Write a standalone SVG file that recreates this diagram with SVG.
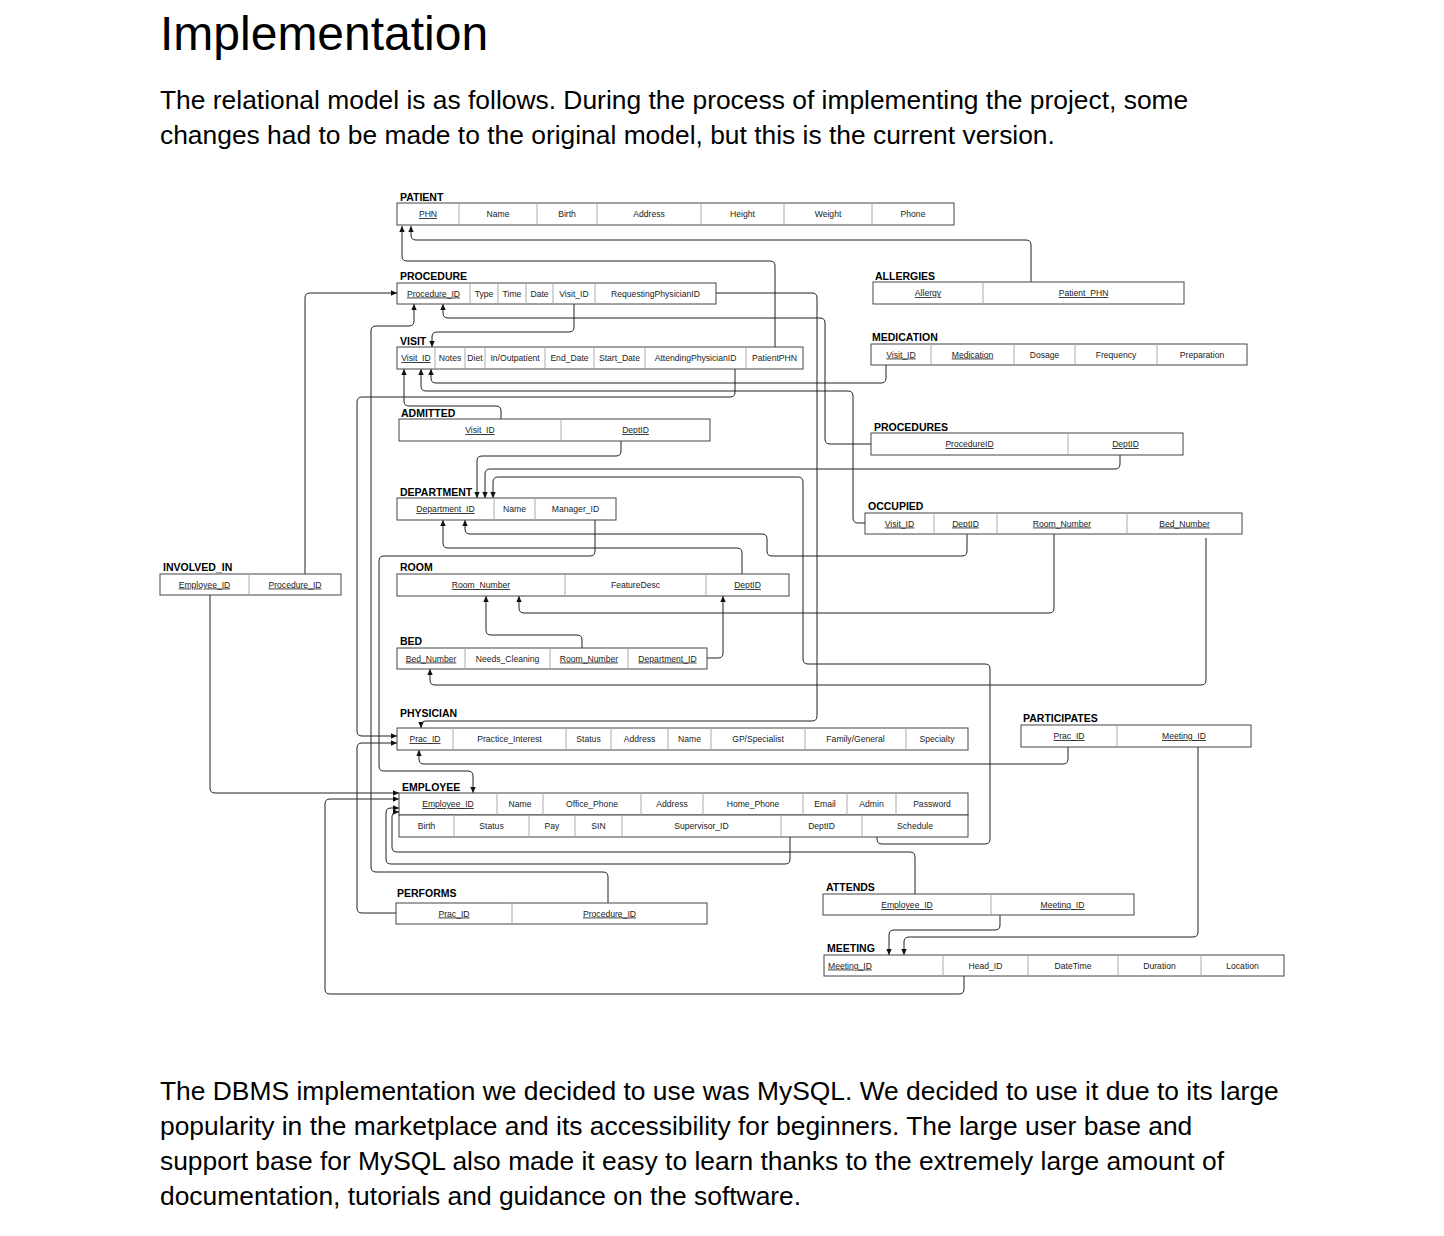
<svg xmlns="http://www.w3.org/2000/svg" width="1444" height="1236" viewBox="0 0 1444 1236">
<style>
.h1{font-family:"Liberation Sans",Arial,sans-serif;font-size:48px;fill:#000}
.p{font-family:"Liberation Sans",Arial,sans-serif;font-size:26.4px;fill:#000}
.t{font-family:"Liberation Sans",Arial,sans-serif;font-size:10.5px;font-weight:bold;fill:#000}
.c{font-family:"Liberation Sans",Arial,sans-serif;font-size:8.6px;fill:#222;text-anchor:middle}
.u{text-decoration:underline}
.box{fill:#fff;stroke:#444;stroke-width:1}
.dv{stroke:#aaa;stroke-width:1}
.conn path{fill:none;stroke:#222;stroke-width:1;marker-end:url(#arr)}
</style>
<defs>
<marker id="arr" viewBox="0 0 6 6" refX="6" refY="3" markerWidth="6" markerHeight="6" markerUnits="userSpaceOnUse" orient="auto">
<path d="M0,0.3 L6,3 L0,5.7 z" fill="#111"/>
</marker>
</defs>
<rect width="1444" height="1236" fill="#fff"/>
<text class="h1" x="160" y="50">Implementation</text>
<text class="p" x="160" y="109">The relational model is as follows. During the process of implementing the project, some</text>
<text class="p" x="160" y="144">changes had to be made to the original model, but this is the current version.</text>
<text class="p" x="160" y="1100">The DBMS implementation we decided to use was MySQL. We decided to use it due to its large</text>
<text class="p" x="160" y="1135">popularity in the marketplace and its accessibility for beginners. The large user base and</text>
<text class="p" x="160" y="1170">support base for MySQL also made it easy to learn thanks to the extremely large amount of</text>
<text class="p" x="160" y="1205">documentation, tutorials and guidance on the software.</text>

<g id="connectors" class="conn">
<path d="M775,347 V266 Q775,261 770,261 H407 Q402,261 402,256 V226"/>
<path d="M1031,282 V245 Q1031,240 1026,240 H416 Q411,240 411,235 V226"/>
<path d="M716,293 H812 Q817,293 817,298 V716 Q817,721 812,721 H426 Q421,721 421,726 V728"/>
<path d="M574,304 V327 Q574,332 569,332 H437 Q432,332 432,337 V347"/>
<path d="M501,419 V411 Q501,406 496,406 H409 Q404,406 404,401 V369"/>
<path d="M886,365 V378 Q886,383 881,383 H436 Q431,383 431,378 V369"/>
<path d="M865,523 H858 Q853,523 853,518 V396 Q853,391 848,391 H426 Q421,391 421,386 V369"/>
<path d="M735,369 V392 Q735,397 730,397 H362 Q357,397 357,402 V731 Q357,736 362,736 H397"/>
<path d="M396,913 H362 Q357,913 357,908 V748 Q357,743 362,743 H397"/>
<path d="M305,574 V298 Q305,293 310,293 H397"/>
<path d="M608,903 V877 Q608,872 603,872 H376 Q371,872 371,867 V331 Q371,326 376,326 H409 Q414,326 414,321 V304"/>
<path d="M871,444 H830 Q825,444 825,439 V323 Q825,318 820,318 H448 Q443,318 443,313 V304"/>
<path d="M621,441 V451 Q621,456 616,456 H482 Q477,456 477,461 V498"/>
<path d="M1120,455 V464 Q1120,469 1115,469 H490 Q485,469 485,474 V498"/>
<path d="M877,837 V839 Q877,844 882,844 H985 Q990,844 990,839 V669 Q990,664 985,664 H808 Q803,664 803,659 V482 Q803,477 798,477 H498 Q493,477 493,482 V498"/>
<path d="M742,574 V553 Q742,548 737,548 H448 Q443,548 443,543 V520"/>
<path d="M967,534 V551 Q967,556 962,556 H772 Q767,556 767,551 V539 Q767,534 762,534 H470 Q465,534 465,529 V520"/>
<path d="M595,520 V551 Q595,556 590,556 H384 Q379,556 379,561 V766 Q379,771 384,771 H468 Q473,771 473,776 V793"/>
<path d="M582,648 V640 Q582,635 577,635 H491 Q486,635 486,630 V596"/>
<path d="M1054,534 V608 Q1054,613 1049,613 H524 Q519,613 519,608 V596"/>
<path d="M707,658 H718 Q723,658 723,653 V596"/>
<path d="M1206,538 V680 Q1206,685 1201,685 H435 Q430,685 430,680 V669"/>
<path d="M1068,747 V759 Q1068,764 1063,764 H424 Q419,764 419,759 V750"/>
<path d="M1198,747 V932 Q1198,937 1193,937 H909 Q904,937 904,942 V955"/>
<path d="M1000,915 V925 Q1000,930 995,930 H894 Q889,930 889,935 V955"/>
<path d="M915,894 V857 Q915,852 910,852 H397 Q392,852 392,847 V817 Q392,812 397,812 H399"/>
<path d="M790,837 V859 Q790,864 785,864 H391 Q386,864 386,859 V813 Q386,808 391,808 H399"/>
<path d="M210,595 V788 Q210,793 215,793 H399"/>
<path d="M964,976 V989 Q964,994 959,994 H330 Q325,994 325,989 V804 Q325,799 330,799 H399"/>
</g>

<g id="patient">
<text class="t" x="400" y="201">PATIENT</text>
<rect class="box" x="397" y="203" width="557" height="22"/>
<path class="dv" d="M459,203V225M537,203V225M597,203V225M701,203V225M784,203V225M872,203V225"/>
<text class="c u" x="428" y="217">PHN</text>
<text class="c" x="498" y="217">Name</text>
<text class="c" x="567" y="217">Birth</text>
<text class="c" x="649" y="217">Address</text>
<text class="c" x="742.5" y="217">Height</text>
<text class="c" x="828" y="217">Weight</text>
<text class="c" x="913" y="217">Phone</text>
</g>

<g id="procedure">
<text class="t" x="400" y="280">PROCEDURE</text>
<rect class="box" x="397" y="283" width="319" height="21"/>
<path class="dv" d="M470,283V304M498,283V304M526,283V304M553,283V304M595,283V304"/>
<text class="c u" x="433.5" y="296.5">Procedure_ID</text>
<text class="c" x="484" y="296.5">Type</text>
<text class="c" x="512" y="296.5">Time</text>
<text class="c" x="539.5" y="296.5">Date</text>
<text class="c" x="574" y="296.5">Visit_ID</text>
<text class="c" x="655.5" y="296.5">RequestingPhysicianID</text>
</g>

<g id="visit">
<text class="t" x="400" y="345">VISIT</text>
<rect class="box" x="397" y="347" width="406" height="22"/>
<path class="dv" d="M435,347V369M465,347V369M485,347V369M545,347V369M594,347V369M645,347V369M746,347V369"/>
<text class="c u" x="416" y="361">Visit_ID</text>
<text class="c" x="450" y="361">Notes</text>
<text class="c" x="475" y="361">Diet</text>
<text class="c" x="515" y="361">In/Outpatient</text>
<text class="c" x="569.5" y="361">End_Date</text>
<text class="c" x="619.5" y="361">Start_Date</text>
<text class="c" x="695.5" y="361">AttendingPhysicianID</text>
<text class="c" x="774.5" y="361">PatientPHN</text>
</g>

<g id="admitted">
<text class="t" x="401" y="417">ADMITTED</text>
<rect class="box" x="399" y="419" width="311" height="22"/>
<path class="dv" d="M561,419V441"/>
<text class="c u" x="480" y="433">Visit_ID</text>
<text class="c u" x="635.5" y="433">DeptID</text>
</g>

<g id="allergies">
<text class="t" x="875" y="280">ALLERGIES</text>
<rect class="box" x="873" y="282" width="311" height="22"/>
<path class="dv" d="M983,282V304"/>
<text class="c u" x="928" y="296">Allergy</text>
<text class="c u" x="1083.5" y="296">Patient_PHN</text>
</g>

<g id="medication">
<text class="t" x="872" y="341">MEDICATION</text>
<rect class="box" x="871" y="344" width="376" height="21"/>
<path class="dv" d="M931,344V365M1014,344V365M1075,344V365M1157,344V365"/>
<text class="c u" x="901" y="357.5">Visit_ID</text>
<text class="c u" x="972.5" y="357.5">Medication</text>
<text class="c" x="1044.5" y="357.5">Dosage</text>
<text class="c" x="1116" y="357.5">Frequency</text>
<text class="c" x="1202" y="357.5">Preparation</text>
</g>

<g id="procedures">
<text class="t" x="874" y="431">PROCEDURES</text>
<rect class="box" x="871" y="433" width="312" height="22"/>
<path class="dv" d="M1068,433V455"/>
<text class="c u" x="969.5" y="447">ProcedureID</text>
<text class="c u" x="1125.5" y="447">DeptID</text>
</g>

<g id="occupied">
<text class="t" x="868" y="510">OCCUPIED</text>
<rect class="box" x="865" y="513" width="377" height="21"/>
<path class="dv" d="M934,513V534M997,513V534M1127,513V534"/>
<text class="c u" x="899.5" y="526.5">Visit_ID</text>
<text class="c u" x="965.5" y="526.5">DeptID</text>
<text class="c u" x="1062" y="526.5">Room_Number</text>
<text class="c u" x="1184.5" y="526.5">Bed_Number</text>
</g>

<g id="department">
<text class="t" x="400" y="496">DEPARTMENT</text>
<rect class="box" x="397" y="498" width="219" height="22"/>
<path class="dv" d="M494,498V520M535,498V520"/>
<text class="c u" x="445.5" y="512">Department_ID</text>
<text class="c" x="514.5" y="512">Name</text>
<text class="c" x="575.5" y="512">Manager_ID</text>
</g>

<g id="room">
<text class="t" x="400" y="571">ROOM</text>
<rect class="box" x="397" y="574" width="392" height="22"/>
<path class="dv" d="M565,574V596M706,574V596"/>
<text class="c u" x="481" y="588">Room_Number</text>
<text class="c" x="635.5" y="588">FeatureDesc</text>
<text class="c u" x="747.5" y="588">DeptID</text>
</g>

<g id="bed">
<text class="t" x="400" y="645">BED</text>
<rect class="box" x="397" y="648" width="310" height="21"/>
<path class="dv" d="M465,648V669M550,648V669M628,648V669"/>
<text class="c u" x="431" y="661.5">Bed_Number</text>
<text class="c" x="507.5" y="661.5">Needs_Cleaning</text>
<text class="c u" x="589" y="661.5">Room_Number</text>
<text class="c u" x="667.5" y="661.5">Department_ID</text>
</g>

<g id="involved_in">
<text class="t" x="163" y="571">INVOLVED_IN</text>
<rect class="box" x="160" y="574" width="181" height="21"/>
<path class="dv" d="M249,574V595"/>
<text class="c u" x="204.5" y="587.5">Employee_ID</text>
<text class="c u" x="295" y="587.5">Procedure_ID</text>
</g>

<g id="physician">
<text class="t" x="400" y="717">PHYSICIAN</text>
<rect class="box" x="397" y="728" width="571" height="22"/>
<path class="dv" d="M453,728V750M566,728V750M611,728V750M668,728V750M711,728V750M805,728V750M906,728V750"/>
<text class="c u" x="425" y="742">Prac_ID</text>
<text class="c" x="509.5" y="742">Practice_Interest</text>
<text class="c" x="588.5" y="742">Status</text>
<text class="c" x="639.5" y="742">Address</text>
<text class="c" x="689.5" y="742">Name</text>
<text class="c" x="758" y="742">GP/Specialist</text>
<text class="c" x="855.5" y="742">Family/General</text>
<text class="c" x="937" y="742">Specialty</text>
</g>

<g id="employee">
<text class="t" x="402" y="791">EMPLOYEE</text>
<rect class="box" x="399" y="793" width="569" height="22"/>
<rect class="box" x="399" y="815" width="569" height="22"/>
<path class="dv" d="M497,793V815M543,793V815M641,793V815M703,793V815M803,793V815M847,793V815M896,793V815"/>
<path class="dv" d="M454,815V837M529,815V837M575,815V837M622,815V837M781,815V837M862,815V837"/>
<text class="c u" x="448" y="807">Employee_ID</text>
<text class="c" x="520" y="807">Name</text>
<text class="c" x="592" y="807">Office_Phone</text>
<text class="c" x="672" y="807">Address</text>
<text class="c" x="753" y="807">Home_Phone</text>
<text class="c" x="825" y="807">Email</text>
<text class="c" x="871.5" y="807">Admin</text>
<text class="c" x="932" y="807">Password</text>
<text class="c" x="426.5" y="829">Birth</text>
<text class="c" x="491.5" y="829">Status</text>
<text class="c" x="552" y="829">Pay</text>
<text class="c" x="598.5" y="829">SIN</text>
<text class="c" x="701.5" y="829">Supervisor_ID</text>
<text class="c" x="821.5" y="829">DeptID</text>
<text class="c" x="915" y="829">Schedule</text>
</g>

<g id="performs">
<text class="t" x="397" y="897">PERFORMS</text>
<rect class="box" x="396" y="903" width="311" height="21"/>
<path class="dv" d="M512,903V924"/>
<text class="c u" x="454" y="916.5">Prac_ID</text>
<text class="c u" x="609.5" y="916.5">Procedure_ID</text>
</g>

<g id="participates">
<text class="t" x="1023" y="722">PARTICIPATES</text>
<rect class="box" x="1021" y="725" width="230" height="22"/>
<path class="dv" d="M1117,725V747"/>
<text class="c u" x="1069" y="739">Prac_ID</text>
<text class="c u" x="1184" y="739">Meeting_ID</text>
</g>

<g id="attends">
<text class="t" x="826" y="891">ATTENDS</text>
<rect class="box" x="823" y="894" width="311" height="21"/>
<path class="dv" d="M991,894V915"/>
<text class="c u" x="907" y="908">Employee_ID</text>
<text class="c u" x="1062.5" y="908">Meeting_ID</text>
</g>

<g id="meeting">
<text class="t" x="827" y="952">MEETING</text>
<rect class="box" x="824" y="955" width="460" height="21"/>
<path class="dv" d="M943,955V976M1028,955V976M1118,955V976M1201,955V976"/>
<text class="c u" x="828" y="968.5" style="text-anchor:start">Meeting_ID</text>
<text class="c" x="985.5" y="968.5">Head_ID</text>
<text class="c" x="1073" y="968.5">DateTime</text>
<text class="c" x="1159.5" y="968.5">Duration</text>
<text class="c" x="1242.5" y="968.5">Location</text>
</g>
</svg>
